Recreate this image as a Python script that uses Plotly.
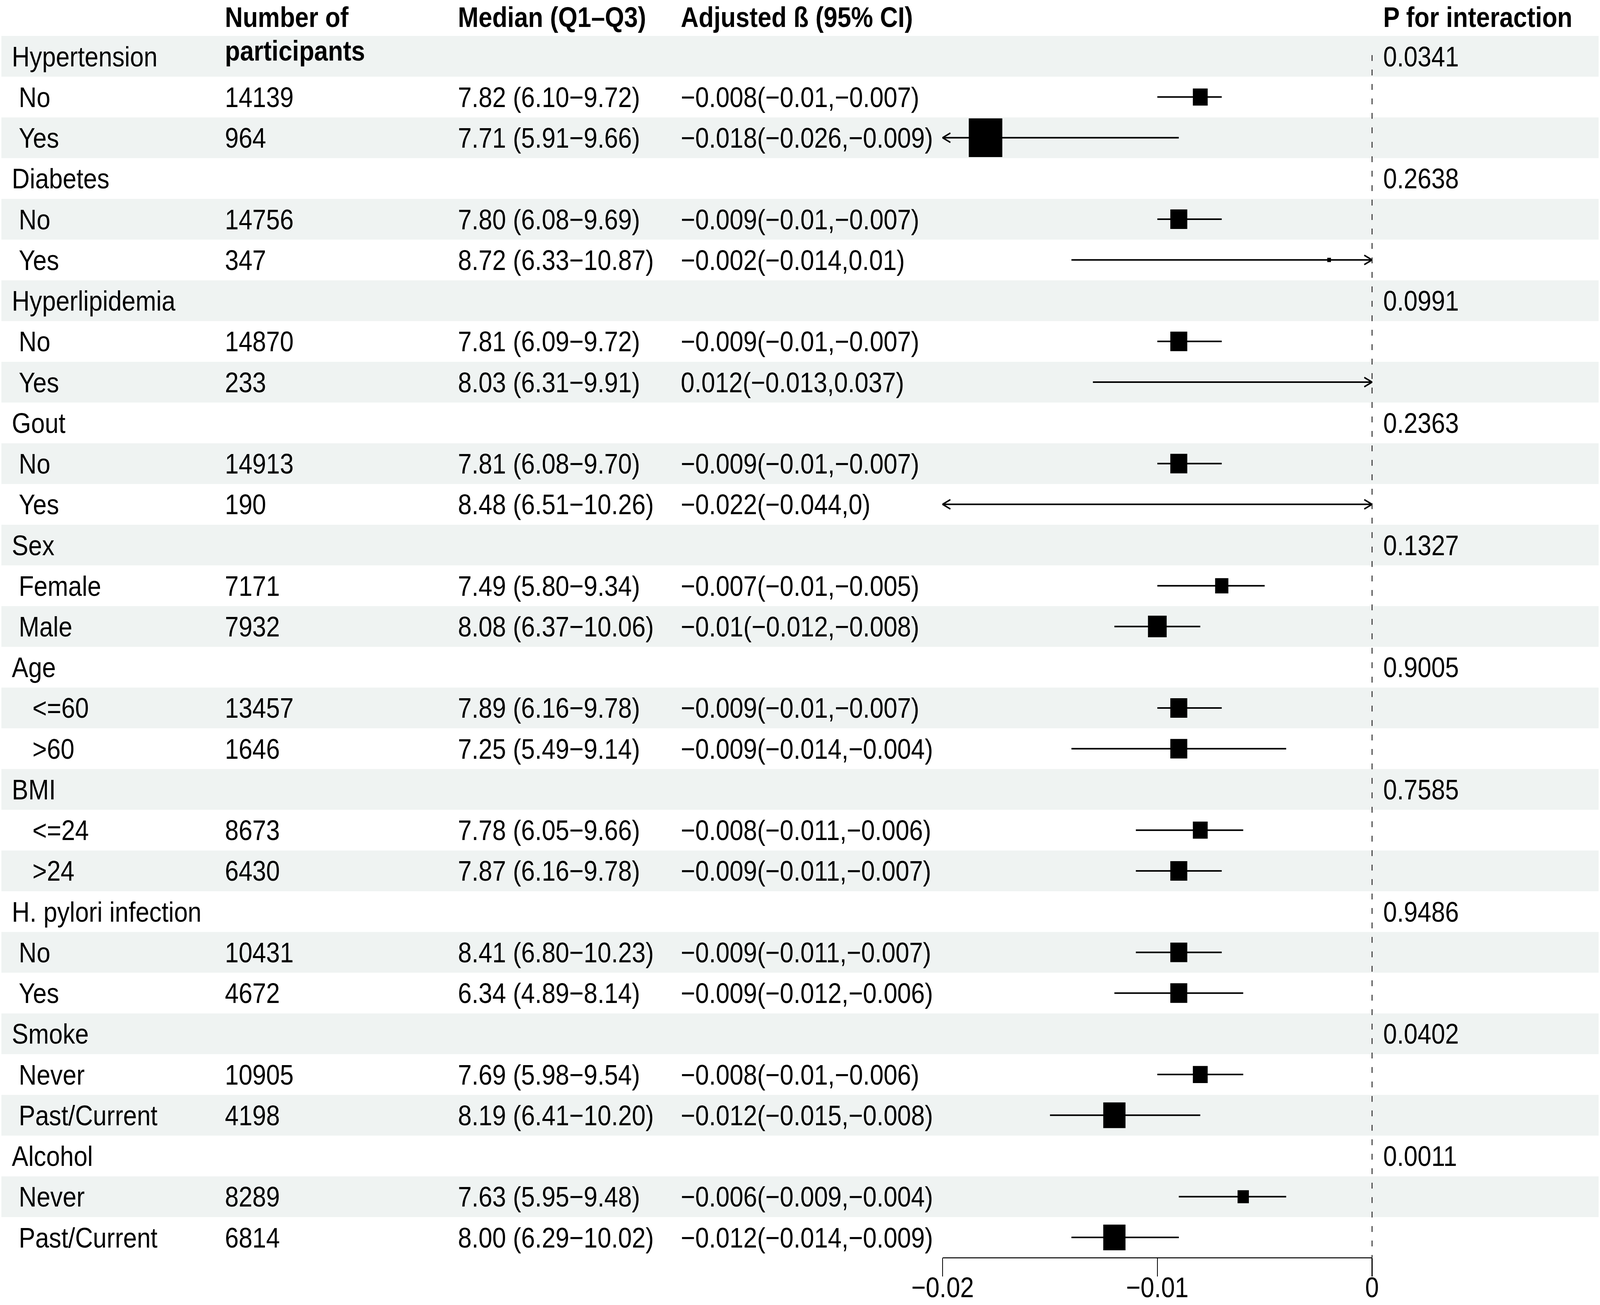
import plotly.graph_objects as go

# ---------------- data ----------------
labels = ["Hypertension", " No", " Yes",
          "Diabetes", " No", " Yes",
          "Hyperlipidemia", " No", " Yes",
          "Gout", " No", " Yes",
          "Sex", " Female", " Male",
          "Age", "   <=60", "   >60",
          "BMI", "   <=24", "   >24",
          "H. pylori infection", " No", " Yes",
          "Smoke", " Never", " Past/Current",
          "Alcohol", " Never", " Past/Current"]

n_participants = ["", "14139", "964",
                  "", "14756", "347",
                  "", "14870", "233",
                  "", "14913", "190",
                  "", "7171", "7932",
                  "", "13457", "1646",
                  "", "8673", "6430",
                  "", "10431", "4672",
                  "", "10905", "4198",
                  "", "8289", "6814"]

median_q1_q3 = ["", "7.82 (6.10−9.72)", "7.71 (5.91−9.66)",
                "", "7.80 (6.08−9.69)", "8.72 (6.33−10.87)",
                "", "7.81 (6.09−9.72)", "8.03 (6.31−9.91)",
                "", "7.81 (6.08−9.70)", "8.48 (6.51−10.26)",
                "", "7.49 (5.80−9.34)", "8.08 (6.37−10.06)",
                "", "7.89 (6.16−9.78)", "7.25 (5.49−9.14)",
                "", "7.78 (6.05−9.66)", "7.87 (6.16−9.78)",
                "", "8.41 (6.80−10.23)", "6.34 (4.89−8.14)",
                "", "7.69 (5.98−9.54)", "8.19 (6.41−10.20)",
                "", "7.63 (5.95−9.48)", "8.00 (6.29−10.02)"]

beta_ci_text = ["", "−0.008(−0.01,−0.007)", "−0.018(−0.026,−0.009)",
                "", "−0.009(−0.01,−0.007)", "−0.002(−0.014,0.01)",
                "", "−0.009(−0.01,−0.007)", "0.012(−0.013,0.037)",
                "", "−0.009(−0.01,−0.007)", "−0.022(−0.044,0)",
                "", "−0.007(−0.01,−0.005)", "−0.01(−0.012,−0.008)",
                "", "−0.009(−0.01,−0.007)", "−0.009(−0.014,−0.004)",
                "", "−0.008(−0.011,−0.006)", "−0.009(−0.011,−0.007)",
                "", "−0.009(−0.011,−0.007)", "−0.009(−0.012,−0.006)",
                "", "−0.008(−0.01,−0.006)", "−0.012(−0.015,−0.008)",
                "", "−0.006(−0.009,−0.004)", "−0.012(−0.014,−0.009)"]

p_interaction = ["0.0341", "", "",
                 "0.2638", "", "",
                 "0.0991", "", "",
                 "0.2363", "", "",
                 "0.1327", "", "",
                 "0.9005", "", "",
                 "0.7585", "", "",
                 "0.9486", "", "",
                 "0.0402", "", "",
                 "0.0011", "", ""]

estimate = [None, -0.008, -0.018,
            None, -0.009, -0.002,
            None, -0.009, 0.012,
            None, -0.009, -0.022,
            None, -0.007, -0.010,
            None, -0.009, -0.009,
            None, -0.008, -0.009,
            None, -0.009, -0.009,
            None, -0.008, -0.012,
            None, -0.006, -0.012]

ci_low = [None, -0.010, -0.026,
          None, -0.010, -0.014,
          None, -0.010, -0.013,
          None, -0.010, -0.044,
          None, -0.010, -0.012,
          None, -0.010, -0.014,
          None, -0.011, -0.011,
          None, -0.011, -0.012,
          None, -0.010, -0.015,
          None, -0.009, -0.014]

ci_high = [None, -0.007, -0.009,
           None, -0.007, 0.010,
           None, -0.007, 0.037,
           None, -0.007, 0.000,
           None, -0.005, -0.008,
           None, -0.007, -0.004,
           None, -0.006, -0.007,
           None, -0.007, -0.006,
           None, -0.006, -0.008,
           None, -0.004, -0.009]

# relative box weight (fraction of a row height)
box_weight = [None, 0.42, 0.95,
              None, 0.48, 0.105,
              None, 0.48, 0.10,
              None, 0.48, 0.10,
              None, 0.375, 0.53,
              None, 0.48, 0.48,
              None, 0.42, 0.48,
              None, 0.48, 0.48,
              None, 0.42, 0.63,
              None, 0.32, 0.63]

header_cols = [["Number of", "participants"], ["Median (Q1–Q3)"],
               ["Adjusted ß (95% CI)"], ["P for interaction"]]
tick_values = [-0.02, -0.01, 0.0]
tick_labels = ["−0.02", "−0.01", "0"]
x_limits = [-0.02, 0.0]
ref_value = 0.0

# ---------------- layout constants ----------------
W, H = 4724, 3340
FONT = "Liberation Sans, Arial, sans-serif"
FS = 73
ROW_PX = 104.24
TOP_PX = 92.0
NROWS = len(labels)
AXIS_PX = TOP_PX + NROWS * ROW_PX
X_LEFT_PX, X_RIGHT_PX = 2783.0, 4051.0
XMIN, XMAX = x_limits
PAD = 0.0002
PPU = (X_RIGHT_PX - X_LEFT_PX) / (XMAX - XMIN)
xdom = [(X_LEFT_PX - PAD * PPU) / W, (X_RIGHT_PX + PAD * PPU) / W]


def row_of(ypx):
    return 0.5 + (ypx - TOP_PX) / ROW_PX


yrange = [row_of(AXIS_PX), row_of(0)]
ydom = [(H - AXIS_PX) / H, 1.0]

COL_X = [35, 664, 1352, 2010]
COLP_X = 4084
HEADER_CENTER_PX = 43
HEADER_LINE_PX = 86
BAND = "#eff3f2"

rows = list(range(1, NROWS + 1))

fig = go.Figure()

# CI lines (clamped at axis limits) and arrow heads for clipped ends
lx, ly = [], []
ax_, ay_ = [], []
dx = 23 / PPU
dy = 12 / ROW_PX
for r, lo, hi in zip(rows, ci_low, ci_high):
    if lo is None:
        continue
    a = max(lo, XMIN)
    b = min(hi, XMAX)
    lx += [a, b, None]
    ly += [r, r, None]
    if lo <= XMIN:
        ax_ += [XMIN + dx, XMIN, XMIN + dx, None]
        ay_ += [r - dy, r, r + dy, None]
    if hi >= XMAX:
        ax_ += [XMAX - dx, XMAX, XMAX - dx, None]
        ay_ += [r - dy, r, r + dy, None]

fig.add_trace(go.Scatter(x=lx, y=ly, mode="lines",
                         line=dict(color="black", width=4),
                         hoverinfo="skip", showlegend=False))
fig.add_trace(go.Scatter(x=ax_, y=ay_, mode="lines",
                         line=dict(color="black", width=4),
                         hoverinfo="skip", showlegend=False))

bx, by, bs = [], [], []
for r, e, w in zip(rows, estimate, box_weight):
    if e is None or e < XMIN or e > XMAX:
        continue
    bx.append(e)
    by.append(r)
    bs.append(w * ROW_PX)
fig.add_trace(go.Scatter(x=bx, y=by, mode="markers",
                         marker=dict(symbol="square", size=bs, color="black",
                                     opacity=1, line=dict(width=0)),
                         opacity=1, hoverinfo="skip", showlegend=False))

shapes = []
for r in rows:
    if r % 2 == 1:
        shapes.append(dict(type="rect", xref="paper", yref="y",
                           x0=4 / W, x1=(W - 4) / W, y0=r - 0.5, y1=r + 0.5,
                           fillcolor=BAND, line=dict(width=0), layer="below"))
# reference line
shapes.append(dict(type="line", xref="x", yref="y", x0=ref_value, x1=ref_value,
                   y0=row_of(141), y1=NROWS + 0.5,
                   line=dict(color="#333333", width=3, dash="15px,22px"),
                   layer="above"))
# x axis line
shapes.append(dict(type="line", xref="x", yref="paper", x0=XMIN, x1=XMAX,
                   y0=ydom[0], y1=ydom[0],
                   line=dict(color="black", width=2.5), layer="above"))

annotations = []


def add_text(xpx, yrow, text, bold=False):
    annotations.append(dict(
        xref="paper", yref="y", x=xpx / W, y=yrow,
        text=text.replace(" ", "\u00a0") if text.startswith(" ") else text,
        showarrow=False, xanchor="left", yanchor="middle",
        borderpad=0, borderwidth=0,
        font=dict(family=FONT, size=FS, color="black",
                  weight="bold" if bold else "normal")))


for ci, lines in enumerate(header_cols):
    xpx = COL_X[ci + 1] if ci < 3 else COLP_X
    for li, t in enumerate(lines):
        add_text(xpx, row_of(HEADER_CENTER_PX + li * HEADER_LINE_PX), t, bold=True)

for r, lab, n, med, cit, p in zip(rows, labels, n_participants, median_q1_q3,
                                  beta_ci_text, p_interaction):
    add_text(COL_X[0], r, lab)
    if n:
        add_text(COL_X[1], r, n)
    if med:
        add_text(COL_X[2], r, med)
    if cit:
        add_text(COL_X[3], r, cit)
    if p:
        add_text(COLP_X, r, p)

fig.update_layout(
    width=W, height=H, autosize=False,
    margin=dict(l=0, r=0, t=0, b=0, pad=0),
    paper_bgcolor="white", plot_bgcolor="rgba(0,0,0,0)",
    shapes=shapes, annotations=annotations, showlegend=False,
    font=dict(family=FONT, size=FS, color="black"),
    xaxis=dict(domain=xdom, range=[XMIN - PAD, XMAX + PAD], showgrid=False,
               zeroline=False, showline=False, ticks="outside", ticklen=47,
               tickwidth=2.5, tickcolor="black", tickvals=tick_values,
               ticktext=tick_labels, tickfont=dict(family=FONT, size=FS, color="black"),
               ticklabelstandoff=-35, automargin=False, fixedrange=True),
    yaxis=dict(domain=ydom, range=yrange, visible=False, showgrid=False,
               zeroline=False, automargin=False, fixedrange=True),
)

# map the fixed-size figure onto the full viewport the page is opened in
fit_js = """
(function(){
  var gd = document.getElementById('{plot_id}');
  var wrap = gd.parentElement;
  var de = document.documentElement, b = document.body;
  de.style.margin = '0'; b.style.margin = '0';
  de.style.overflow = 'hidden'; b.style.overflow = 'hidden';
  function fit(){
    var kx = window.innerWidth / %d, ky = window.innerHeight / %d;
    gd.style.transformOrigin = '0 0';
    gd.style.transform = 'scale(' + kx + ',' + ky + ')';
    wrap.style.width = window.innerWidth + 'px';
    wrap.style.height = window.innerHeight + 'px';
    wrap.style.overflow = 'hidden';
  }
  fit();
  window.addEventListener('resize', fit);
})();
""" % (W, H)

fig.write_html("out.html", post_script=fit_js,
               config={"displayModeBar": False, "staticPlot": True})
